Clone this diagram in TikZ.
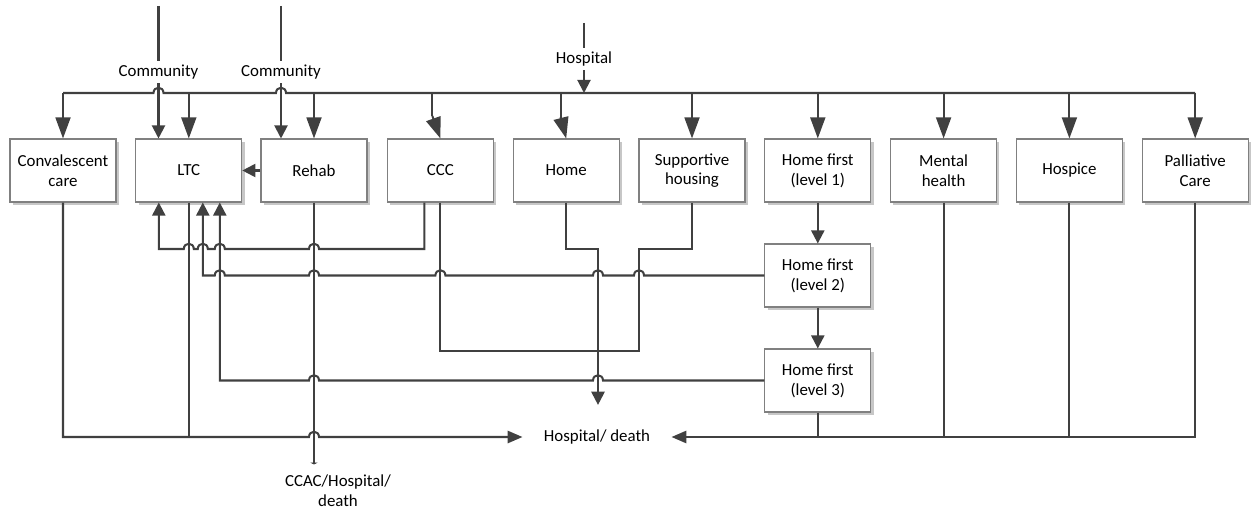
\documentclass[tikz,border=0pt]{standalone}
\usepackage{fontspec}
\setmainfont{Carlito}
\usepackage{tikz}
\usetikzlibrary{positioning, calc, arrows.meta, shadows}
\definecolor{linegray}{HTML}{404040}
\definecolor{boxgray}{HTML}{808080}
\tikzset{box/.style = {rectangle,draw=boxgray,line width=0.6pt,fill=white,minimum width=2.12cm,minimum height=1.26cm,align=center,inner sep=1pt,
                       drop shadow={shadow xshift=1.6pt,shadow yshift=-1.6pt,fill=black!22,opacity=1}}}
\tikzset{lbl/.style = {inner sep=2pt,align=center}}
\tikzset{conn/.style = {draw=linegray,line width=1.15pt}}
\tikzset{bigarr/.style = {conn,-{Triangle[width=8.5pt,length=12pt]}}}
\tikzset{bigback/.style = {conn,{Triangle[width=8.5pt,length=12pt]}-}}
\tikzset{arr/.style = {conn,-{Triangle[width=7.5pt,length=7.5pt]}}}
\tikzset{backarr/.style = {conn,{Triangle[width=7.5pt,length=7.5pt]}-}}
\tikzset{endarr/.style = {conn,-{Triangle[width=7pt,length=8.5pt]}}}
% jump over a vertical line, on a horizontal line drawn left to right
\newcommand{\hop}[2]{-- (#1-5,#2) .. controls (#1-5,#2-7) and (#1+5,#2-7) .. (#1+5,#2)}

\begin{document}
\begin{tikzpicture}[x=0.02cm,y=-0.02cm,font=\fontsize{9.6}{11.2}\selectfont]
                    \useasboundingbox (0,0) rectangle (1251,517);

                    \node [box] (conv)    at (63,170.5)    {Convalescent\\care};
                    \node [box] (ltc)     at (188.8,170.5) {LTC};
                    \node [box] (rehab)   at (314,170.5)   {Rehab};
                    \node [box] (ccc)     at (440.4,170.5) {CCC};
                    \node [box] (home)    at (566.2,170.5) {Home};
                    \node [box] (supp)    at (692,170.5)   {Supportive\\housing};
                    \node [box] (hf1)     at (817.8,170.5) {Home first\\(level 1)};
                    \node [box] (mental)  at (943.6,170.5) {Mental\\health};
                    \node [box] (hospice) at (1069.4,170.5) {Hospice};
                    \node [box] (pall)    at (1195.2,170.5) {Palliative\\Care};
                    \node [box] (hf2)     at (817.8,275.5) {Home first\\(level 2)};
                    \node [box] (hf3)     at (817.8,380.5) {Home first\\(level 3)};

                    \node [lbl] (comm1) at (158.5,72) {Community};
                    \node [lbl] (comm2) at (281,72)   {Community};
                    \node [lbl] (hosp)  at (584,59)   {Hospital};
                    \node [lbl,inner xsep=12pt] (hd) at (597,437) {Hospital/ death};
                    \node [lbl] (ccac)  at (338,491)  {CCAC/Hospital/\\death};

                    \coordinate (comm1top) at (158.5,6);
                    \coordinate (comm2top) at (281,6);
                    \coordinate (hosptop)  at (584,23);
                    \coordinate (bus)      at (0,93);
                    \coordinate (cccjog)   at (432.4,116);
                    \coordinate (homejog)  at (560.7,117);

                    % admissions from the top
                    \draw [conn] (comm1top) -- (comm1);
                    \draw [conn] (comm2top) -- (comm2);
                    \draw [conn] (hosptop) -- (hosp);
                    \draw [arr] (comm1) -- (comm1 |- ltc.north);
                    \draw [arr] (comm2) -- (comm2 |- rehab.north);
                    \draw [arr] (hosp) -- (hosp |- bus);
                    \draw [conn] (conv.north |- bus) \hop{158.5}{93} \hop{281}{93} -- (pall.north |- bus);

                    \draw [bigarr] (conv.north |- bus) -- (conv.north);
                    \draw [bigarr] (ltc.north |- bus) -- (ltc.north);
                    \draw [bigarr] (rehab.north |- bus) -- (rehab.north);
                    \draw [conn] (cccjog |- bus) -- (cccjog);
                    \draw [bigback] (ccc.north) -- (cccjog);
                    \draw [conn] (homejog |- bus) -- (homejog);
                    \draw [bigback] (home.north) -- (homejog);
                    \draw [bigarr] (supp.north |- bus) -- (supp.north);
                    \draw [bigarr] (hf1.north |- bus) -- (hf1.north);
                    \draw [bigarr] (mental.north |- bus) -- (mental.north);
                    \draw [bigarr] (hospice.north |- bus) -- (hospice.north);
                    \draw [bigarr] (pall.north |- bus) -- (pall.north);

                    \draw [arr] (rehab) -- (ltc);
                    \draw [arr] (hf1) -- (hf2);
                    \draw [arr] (hf2) -- (hf3);

                    % back to LTC
                    \draw [backarr] ($(ltc.south)+(-30,0)$) -- (158.8,249) \hop{188.8}{249} \hop{202.8}{249} \hop{219.8}{249} \hop{314}{249} -- (424.4,249) -- ($(ccc.south)+(-16,0)$);
                    \draw [backarr] ($(ltc.south)+(14,0)$) -- (202.8,275.5) \hop{219.8}{275.5} \hop{314}{275.5} \hop{440.4}{275.5} \hop{598}{275.5} \hop{639}{275.5} -- (hf2);
                    \draw [backarr] ($(ltc.south)+(31,0)$) -- (219.8,380.5) \hop{314}{380.5} \hop{598}{380.5} -- (hf3);

                    \draw [conn] (ccc.south) -- (440.4,351) -- (639,351) -- (639,249) -- (692,249) -- (supp.south);
                    \draw [arr] (home.south) -- (566.2,249) -| ($(hd.north)+(1,-21)$);
                    \draw [conn,-{Triangle[width=4pt,length=1pt]}] (rehab.south) -- ($(rehab.south |- ccac.north)+(0,-7)$);

                    % to hospital / death
                    \draw [endarr] (conv.south) -- (conv.south |- hd.west) \hop{314}{437} -- (hd.west);
                    \draw [conn] (ltc.south) -- (ltc.south |- hd.west);
                    \draw [endarr] (pall.south) |- (hd.east);
                    \draw [conn] (hf3.south) -- (hf3.south |- hd.east);
                    \draw [conn] (mental.south) -- (mental.south |- hd.east);
                    \draw [conn] (hospice.south) -- (hospice.south |- hd.east);
                \end{tikzpicture}
\end{document}
